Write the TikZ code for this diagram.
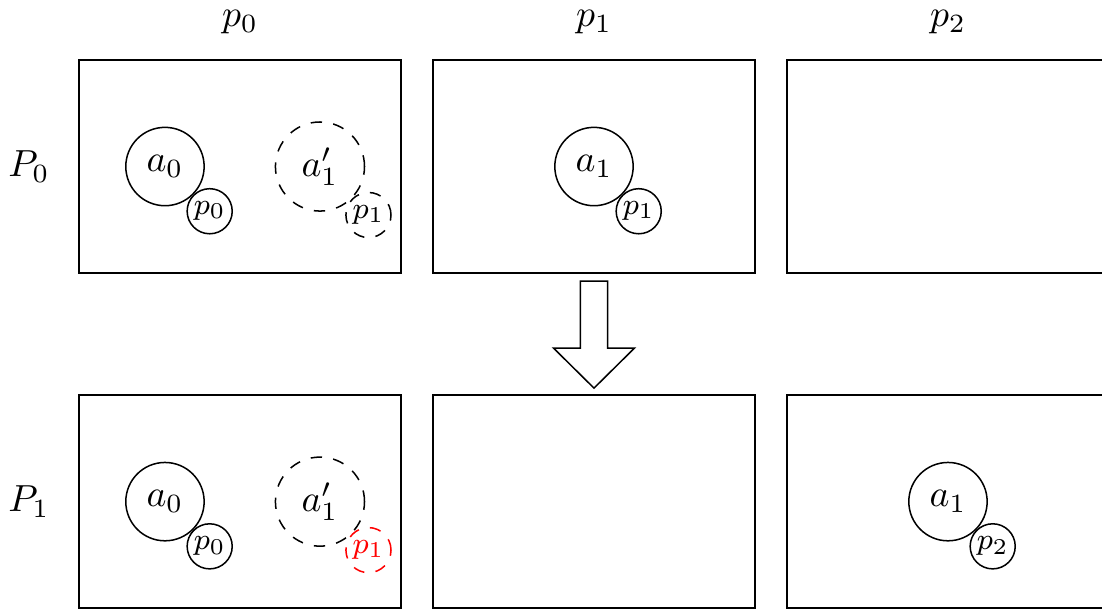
\documentclass[tikz,border=0pt]{standalone}
\usetikzlibrary{calc, positioning}

\begin{document}
\begin{tikzpicture}[every node/.style={font=\normalsize},
	box/.style={draw, rectangle, minimum width=3cm, minimum height=1.985cm, outer sep=0pt},
	agent/.style={draw, circle, minimum size=7.3mm, inner sep=0pt},
	plan/.style={draw, circle, minimum size=4.2mm, inner sep=0pt, font=\footnotesize},
	ghost/.style={dashed}]

	\useasboundingbox (-0.736,0.559) rectangle (9.531,-5.107);

	% boxes: rows are configurations, columns are places
	\node[box, anchor=north west] (B00) at (0,0) {};
	\node[box, right=0.298cm of B00] (B01) {};
	\node[box, right=0.298cm of B01] (B02) {};
	\node[box, below=1.137cm of B00] (B10) {};
	\node[box, right=0.298cm of B10] (B11) {};
	\node[box, right=0.298cm of B11] (B12) {};

	\node[above=0.12cm of B00] (c0) {$p_0$};
	\node[above=0.12cm of B01] (c1) {$p_1$};
	\node[above=0.12cm of B02] (c2) {$p_2$};
	\node[left=0.15cm of B00] (r0) {$P_0$};
	\node[left=0.15cm of B10] (r1) {$P_1$};

	% first row
	\node[agent] (a00) at ($(B00.west)+(0.801,0)$) {$a_0$};
	\node[plan, below right=0pt of a00] (p00) {$p_0$};
	\node[agent, ghost, minimum size=8.3mm] (a01) at ($(B00.west)+(2.245,0)$) {$a'_1$};
	\node[plan, ghost, below right=0pt of a01] (p01) {$p_1$};
	\node[agent] (a1) at (B01) {$a_1$};
	\node[plan, below right=0pt of a1] (p1) {$p_1$};

	% second row
	\node[agent] (a10) at ($(B10.west)+(0.801,0)$) {$a_0$};
	\node[plan, below right=0pt of a10] (p10) {$p_0$};
	\node[agent, ghost, minimum size=8.3mm] (a11) at ($(B10.west)+(2.245,0)$) {$a'_1$};
	\node[plan, ghost, red, below right=0pt of a11] (p11) {$p_1$};
	\node[agent] (a2) at (B12) {$a_1$};
	\node[plan, below right=0pt of a2] (p2) {$p_2$};

	% step arrow
	\coordinate (tail) at ($(B01.south)+(0,-0.075)$);
	\coordinate (tip) at ($(B11.north)+(0,0.065)$);
	\draw ($(tail)+(-0.126,0)$) -- ($(tail)+(0.126,0)$) -- ($(tip)+(0.126,0.373)$)
		-- ($(tip)+(0.377,0.373)$) -- (tip) -- ($(tip)+(-0.377,0.373)$)
		-- ($(tip)+(-0.126,0.373)$) -- cycle;

\end{tikzpicture}
\end{document}
